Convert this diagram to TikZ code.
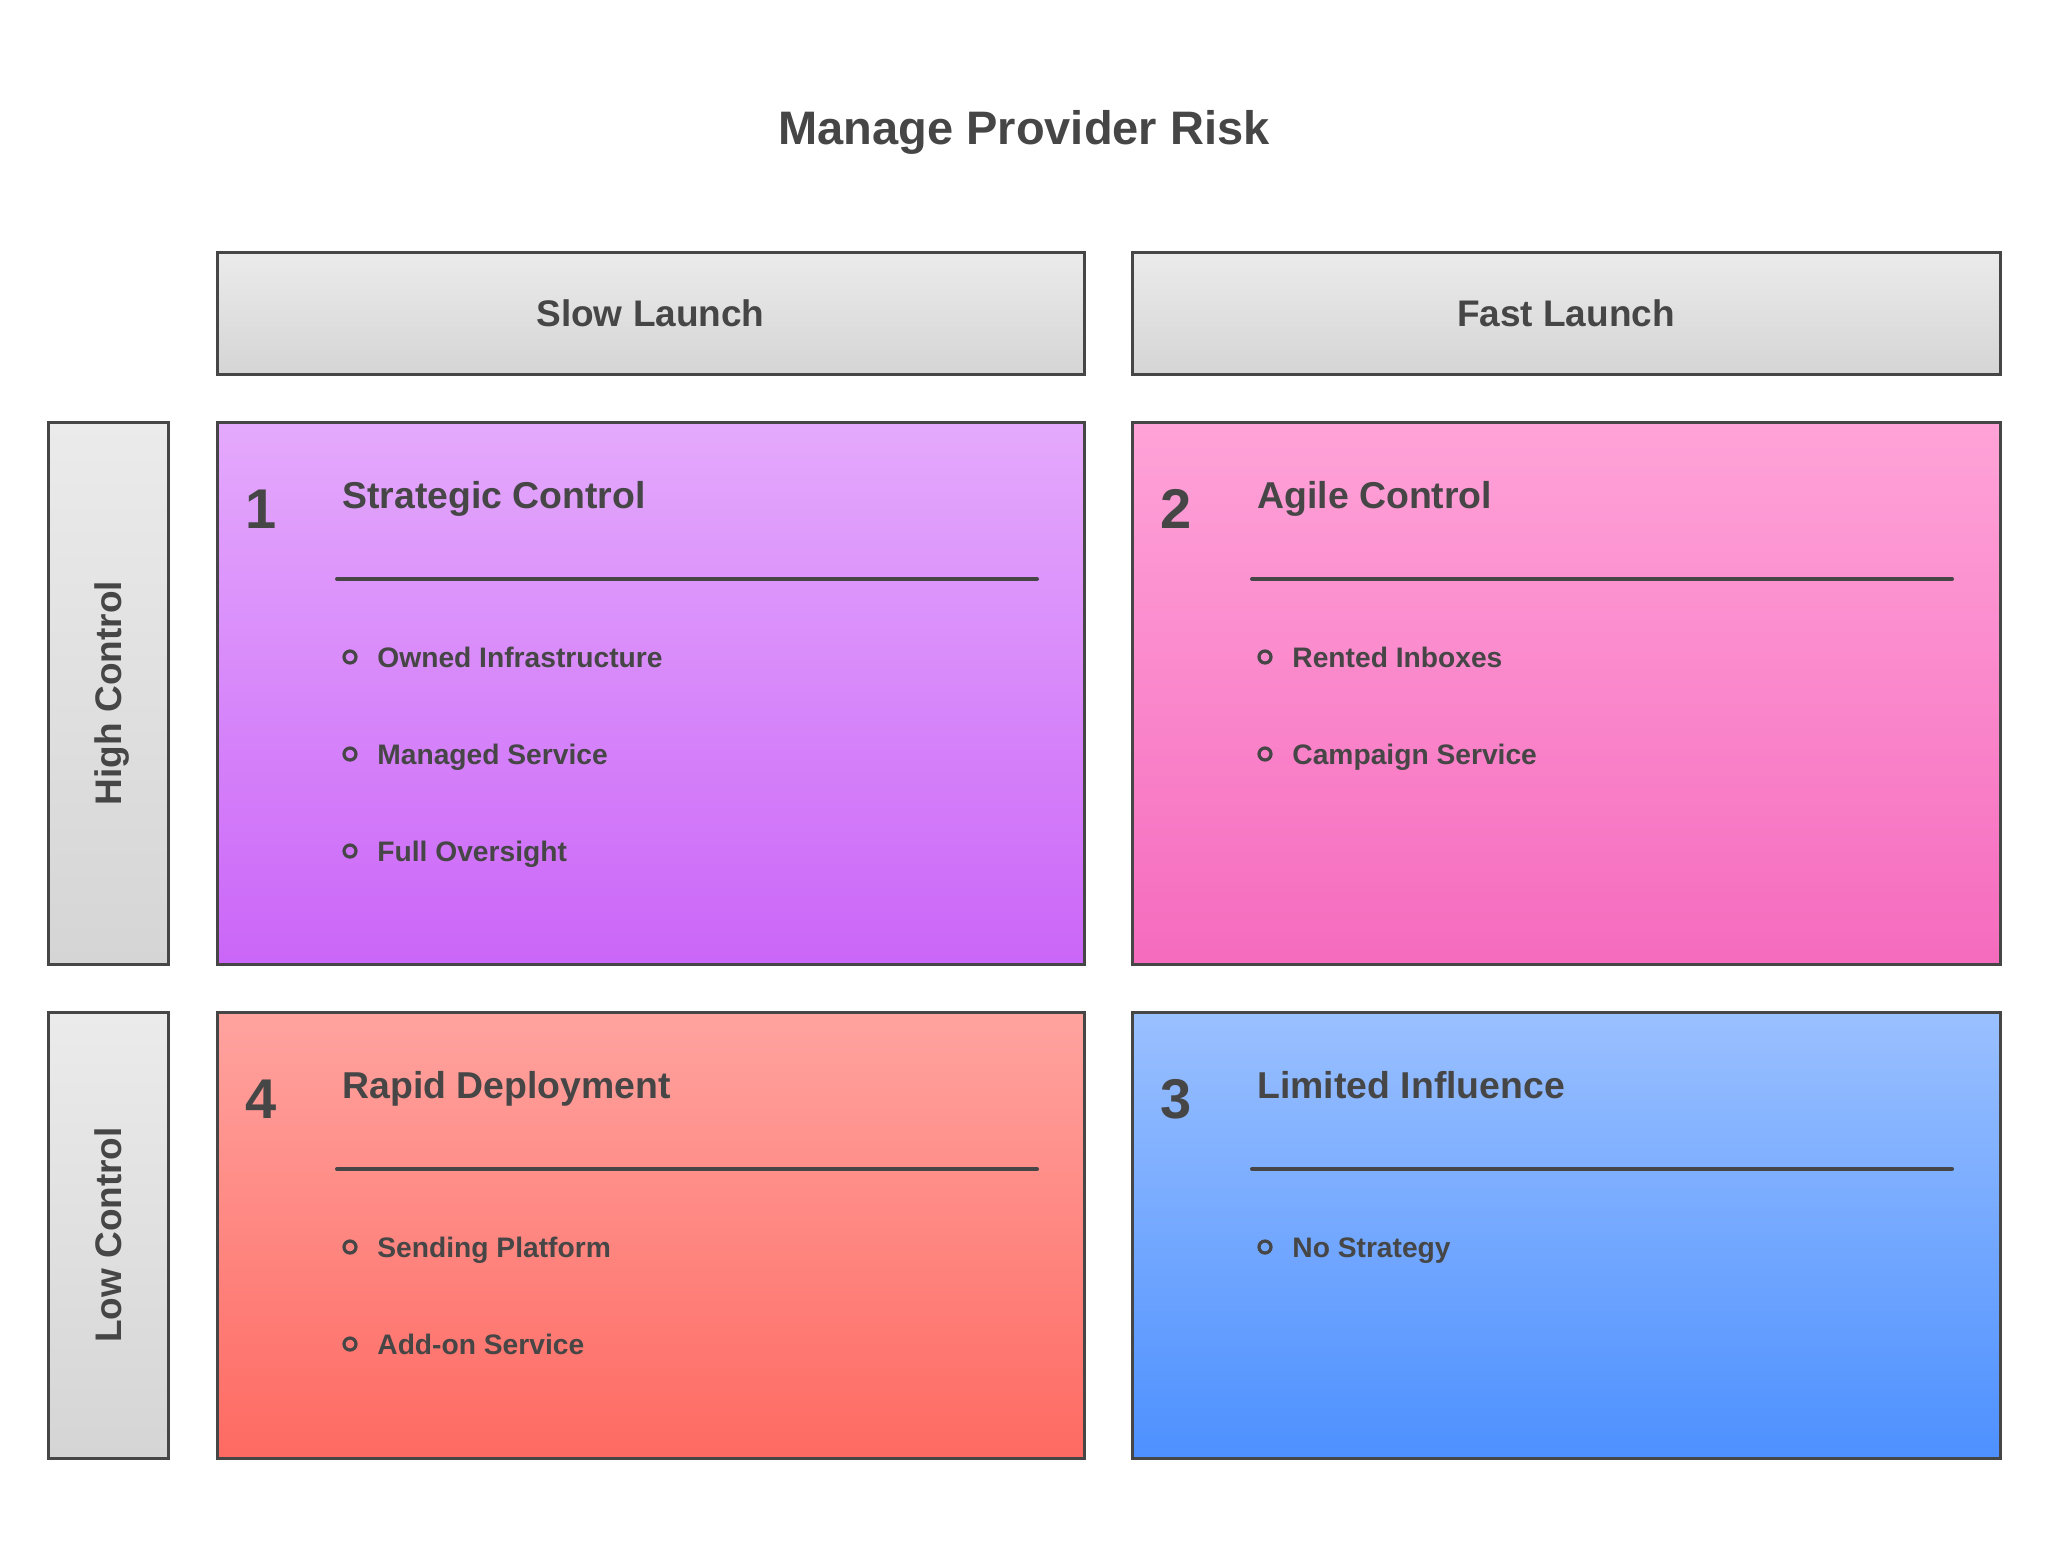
\documentclass[tikz,border=0pt]{standalone}
\usepackage{fontspec}
\setmainfont{Liberation Sans}
\definecolor{ink}{HTML}{464646}
\definecolor{hdtop}{HTML}{EBEBEB}
\definecolor{hdbot}{HTML}{D5D5D5}
\definecolor{qatop}{HTML}{E4A9FC}
\definecolor{qabot}{HTML}{CB66F8}
\definecolor{qbtop}{HTML}{FFA3D8}
\definecolor{qbbot}{HTML}{F56BBE}
\definecolor{qctop}{HTML}{9AC0FF}
\definecolor{qcbot}{HTML}{4D90FF}
\definecolor{qdtop}{HTML}{FFA39F}
\definecolor{qdbot}{HTML}{FE6A62}
\newcommand\mkquad[9]{%
  \node[box,top color=#6,bottom color=#7,minimum width=#4,minimum height=#5] (#1) at (#2,#3) {};
  \node[txt,font=\bfseries\fontsize{28}{30}\selectfont,anchor=base] (#1n) at ({#2+44},{#3+106}) {#8};
  \node[txt,font=\bfseries\fontsize{18.7}{22}\selectfont,anchor=base west] (#1t) at ({#2+125},{#3+86}) {#9};
  \coordinate (#1a) at ({#2+120},{#3+157});
  \coordinate (#1b) at ({#2+820},{#3+157});
  \draw[rule] (#1a) -- (#1b);
}
\newcommand\mkitems[4]{%
  \foreach \t [count=\i] in {#4}{
    \node[dot] (#1d\i) at ({#2+133},{#3+235+97*(\i-1)}) {};
    \node[txt,font=\bfseries\fontsize{14.1}{17}\selectfont,anchor=base west] (#1i\i) at ({#2+160},{#3+245+97*(\i-1)}) {\t};
  }
}
\begin{document}
\begin{tikzpicture}[x=0.5pt,y=-0.5pt,
  txt/.style={text=ink,inner sep=0pt,text depth=0pt},
  box/.style={draw=ink,line width=1.5pt,inner sep=0pt,outer sep=0pt,anchor=north west,rectangle},
  hdr/.style={box,top color=hdtop,bottom color=hdbot,text=ink,text depth=0pt,font=\bfseries\fontsize{18.5}{22}\selectfont},
  rule/.style={draw=ink,line width=2pt,line cap=round},
  dot/.style={circle,draw=ink,line width=1.6pt,minimum size=6pt,inner sep=0pt}]
\useasboundingbox[fill=white] (0,0) rectangle (2048,1554);
\node[txt,font=\bfseries\fontsize{23.5}{28}\selectfont] (title) at (1024,127) {Manage Provider Risk};
\node[hdr,minimum width=433.5pt,minimum height=61pt] (slow) at (217,252) {Slow Launch};
\node[hdr,minimum width=434pt,minimum height=61pt] (fast) at (1132,252) {Fast Launch};
\node[hdr,anchor=center,rotate=90,minimum width=271pt,minimum height=60pt] (high) at (108,693) {High Control};
\node[hdr,anchor=center,rotate=90,minimum width=223pt,minimum height=60pt] (low) at (108,1235) {Low Control};
\mkquad{qa}{217}{422}{433.5pt}{271pt}{qatop}{qabot}{1}{Strategic Control}
\mkitems{qa}{217}{422}{Owned Infrastructure,Managed Service,Full Oversight}
\mkquad{qb}{1132}{422}{434pt}{271pt}{qbtop}{qbbot}{2}{Agile Control}
\mkitems{qb}{1132}{422}{Rented Inboxes,Campaign Service}
\mkquad{qd}{217}{1012}{433.5pt}{223pt}{qdtop}{qdbot}{4}{Rapid Deployment}
\mkitems{qd}{217}{1012}{Sending Platform,Add-on Service}
\mkquad{qc}{1132}{1012}{434pt}{223pt}{qctop}{qcbot}{3}{Limited Influence}
\mkitems{qc}{1132}{1012}{No Strategy}
\end{tikzpicture}
\end{document}
